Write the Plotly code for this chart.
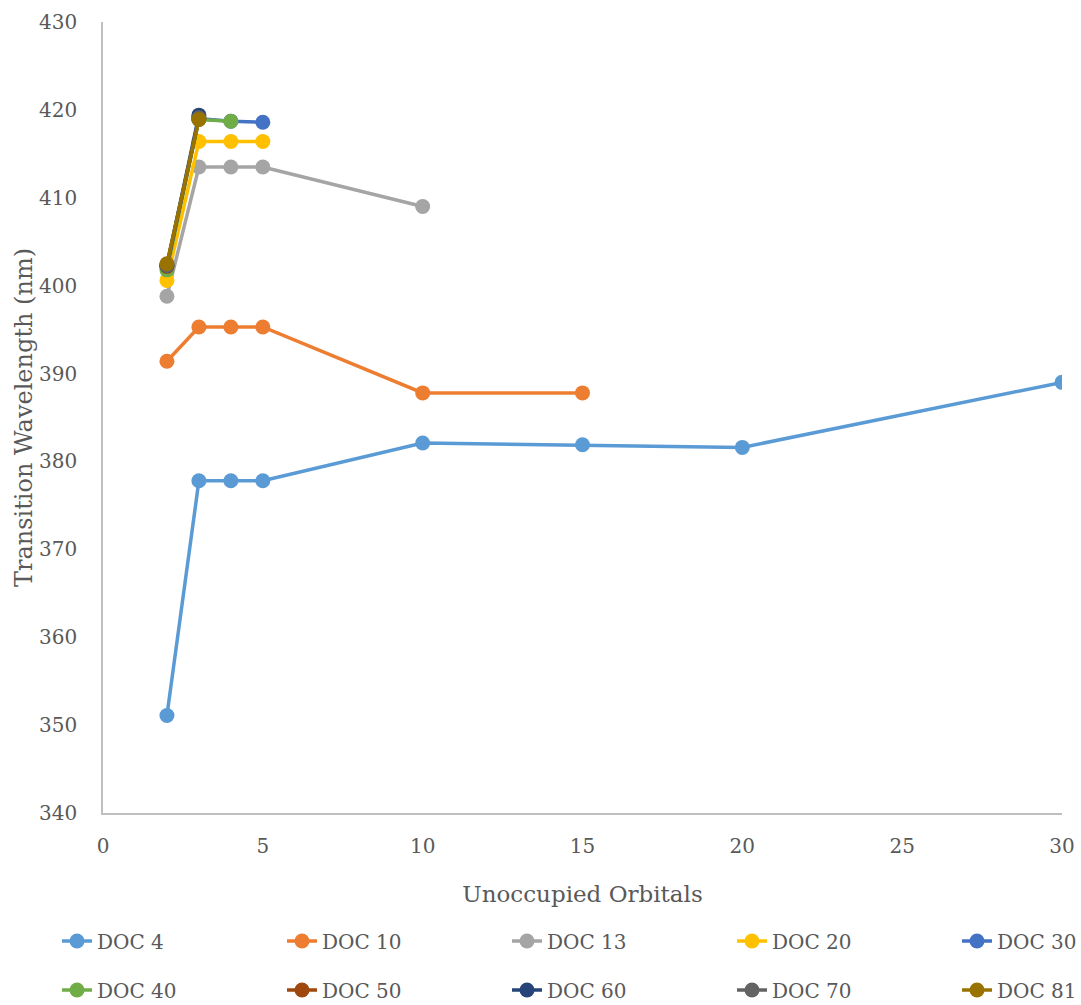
import plotly.graph_objects as go

series_names = ["DOC 4", "DOC 10", "DOC 13", "DOC 20", "DOC 30",
                "DOC 40", "DOC 50", "DOC 60", "DOC 70", "DOC 81"]
x_doc4 = [2, 3, 4, 5, 10, 15, 20, 30]
y_doc4 = [351.1, 377.8, 377.8, 377.8, 382.1, 381.9, 381.6, 389.0]
x_doc10 = [2, 3, 4, 5, 10, 15]
y_doc10 = [391.4, 395.3, 395.3, 395.3, 387.8, 387.8]
x_doc13 = [2, 3, 4, 5, 10]
y_doc13 = [398.8, 413.5, 413.5, 413.5, 409.0]
x_doc20 = [2, 3, 4, 5]
y_doc20 = [400.6, 416.4, 416.4, 416.4]
x_doc30 = [2, 3, 4, 5]
y_doc30 = [402.2, 419.0, 418.7, 418.6]
x_doc40 = [2, 3, 4]
y_doc40 = [401.8, 418.9, 418.7]
x_doc50 = [2, 3]
y_doc50 = [402.2, 419.0]
x_doc60 = [2, 3]
y_doc60 = [402.3, 419.4]
x_doc70 = [2, 3]
y_doc70 = [402.3, 419.1]
x_doc81 = [2, 3]
y_doc81 = [402.5, 418.9]

xs = [x_doc4, x_doc10, x_doc13, x_doc20, x_doc30, x_doc40, x_doc50, x_doc60, x_doc70, x_doc81]
ys = [y_doc4, y_doc10, y_doc13, y_doc20, y_doc30, y_doc40, y_doc50, y_doc60, y_doc70, y_doc81]
colors = ["#5B9BD5", "#ED7D31", "#A5A5A5", "#FFC000", "#4472C4",
          "#70AD47", "#9E480E", "#264478", "#636363", "#997300"]

FONT = "DejaVu Serif"
TXT = "#595959"
W, H = 1081, 1005

fig = go.Figure()
legends = {}
for i, (name, x, y, c) in enumerate(zip(series_names, xs, ys, colors)):
    lname = "legend" if i == 0 else f"legend{i + 1}"
    fig.add_trace(go.Scatter(
        x=x, y=y, name=name, mode="lines+markers",
        line=dict(color=c, width=3.5),
        marker=dict(color=c, size=15),
        legend=lname, showlegend=True,
    ))
    col, row = i % 5, i // 5
    legends[lname] = dict(
        orientation="h", xref="container", yref="container",
        xanchor="left", yanchor="middle",
        x=(57 + 225 * col) / W, y=1 - (941 + 49 * row) / H,
        itemwidth=30, visible=True,
        font=dict(family=FONT, size=20, color=TXT),
        bgcolor="rgba(0,0,0,0)",
    )

fig.update_layout(
    width=W, height=H, showlegend=True,
    margin=dict(l=103, r=19, t=22, b=192, autoexpand=False),
    paper_bgcolor="white", plot_bgcolor="white",
    font=dict(family=FONT, color=TXT),
    xaxis=dict(
        range=[0, 30], tickvals=[0, 5, 10, 15, 20, 25, 30],
        showgrid=False, zeroline=False, automargin=False,
        showline=True, linecolor="#BFBFBF", linewidth=1.5,
        ticks="", ticklabelstandoff=14,
        tickfont=dict(family=FONT, size=20, color=TXT),
        title=dict(text="Unoccupied Orbitals", standoff=29,
                   font=dict(family=FONT, size=23, color=TXT)),
    ),
    yaxis=dict(
        range=[340, 430], tickvals=list(range(340, 431, 10)),
        showgrid=False, zeroline=False, automargin=False,
        showline=True, linecolor="#BFBFBF", linewidth=1.5,
        ticks="", ticklabelstandoff=20,
        tickfont=dict(family=FONT, size=20, color=TXT),
        title=dict(text="Transition Wavelength (nm)", standoff=0,
                   font=dict(family=FONT, size=24, color=TXT)),
    ),
    **legends,
)

fig.write_html("out.html", config={"displayModeBar": False},
               post_script="document.body.style.margin='0';document.body.style.padding='0';")
